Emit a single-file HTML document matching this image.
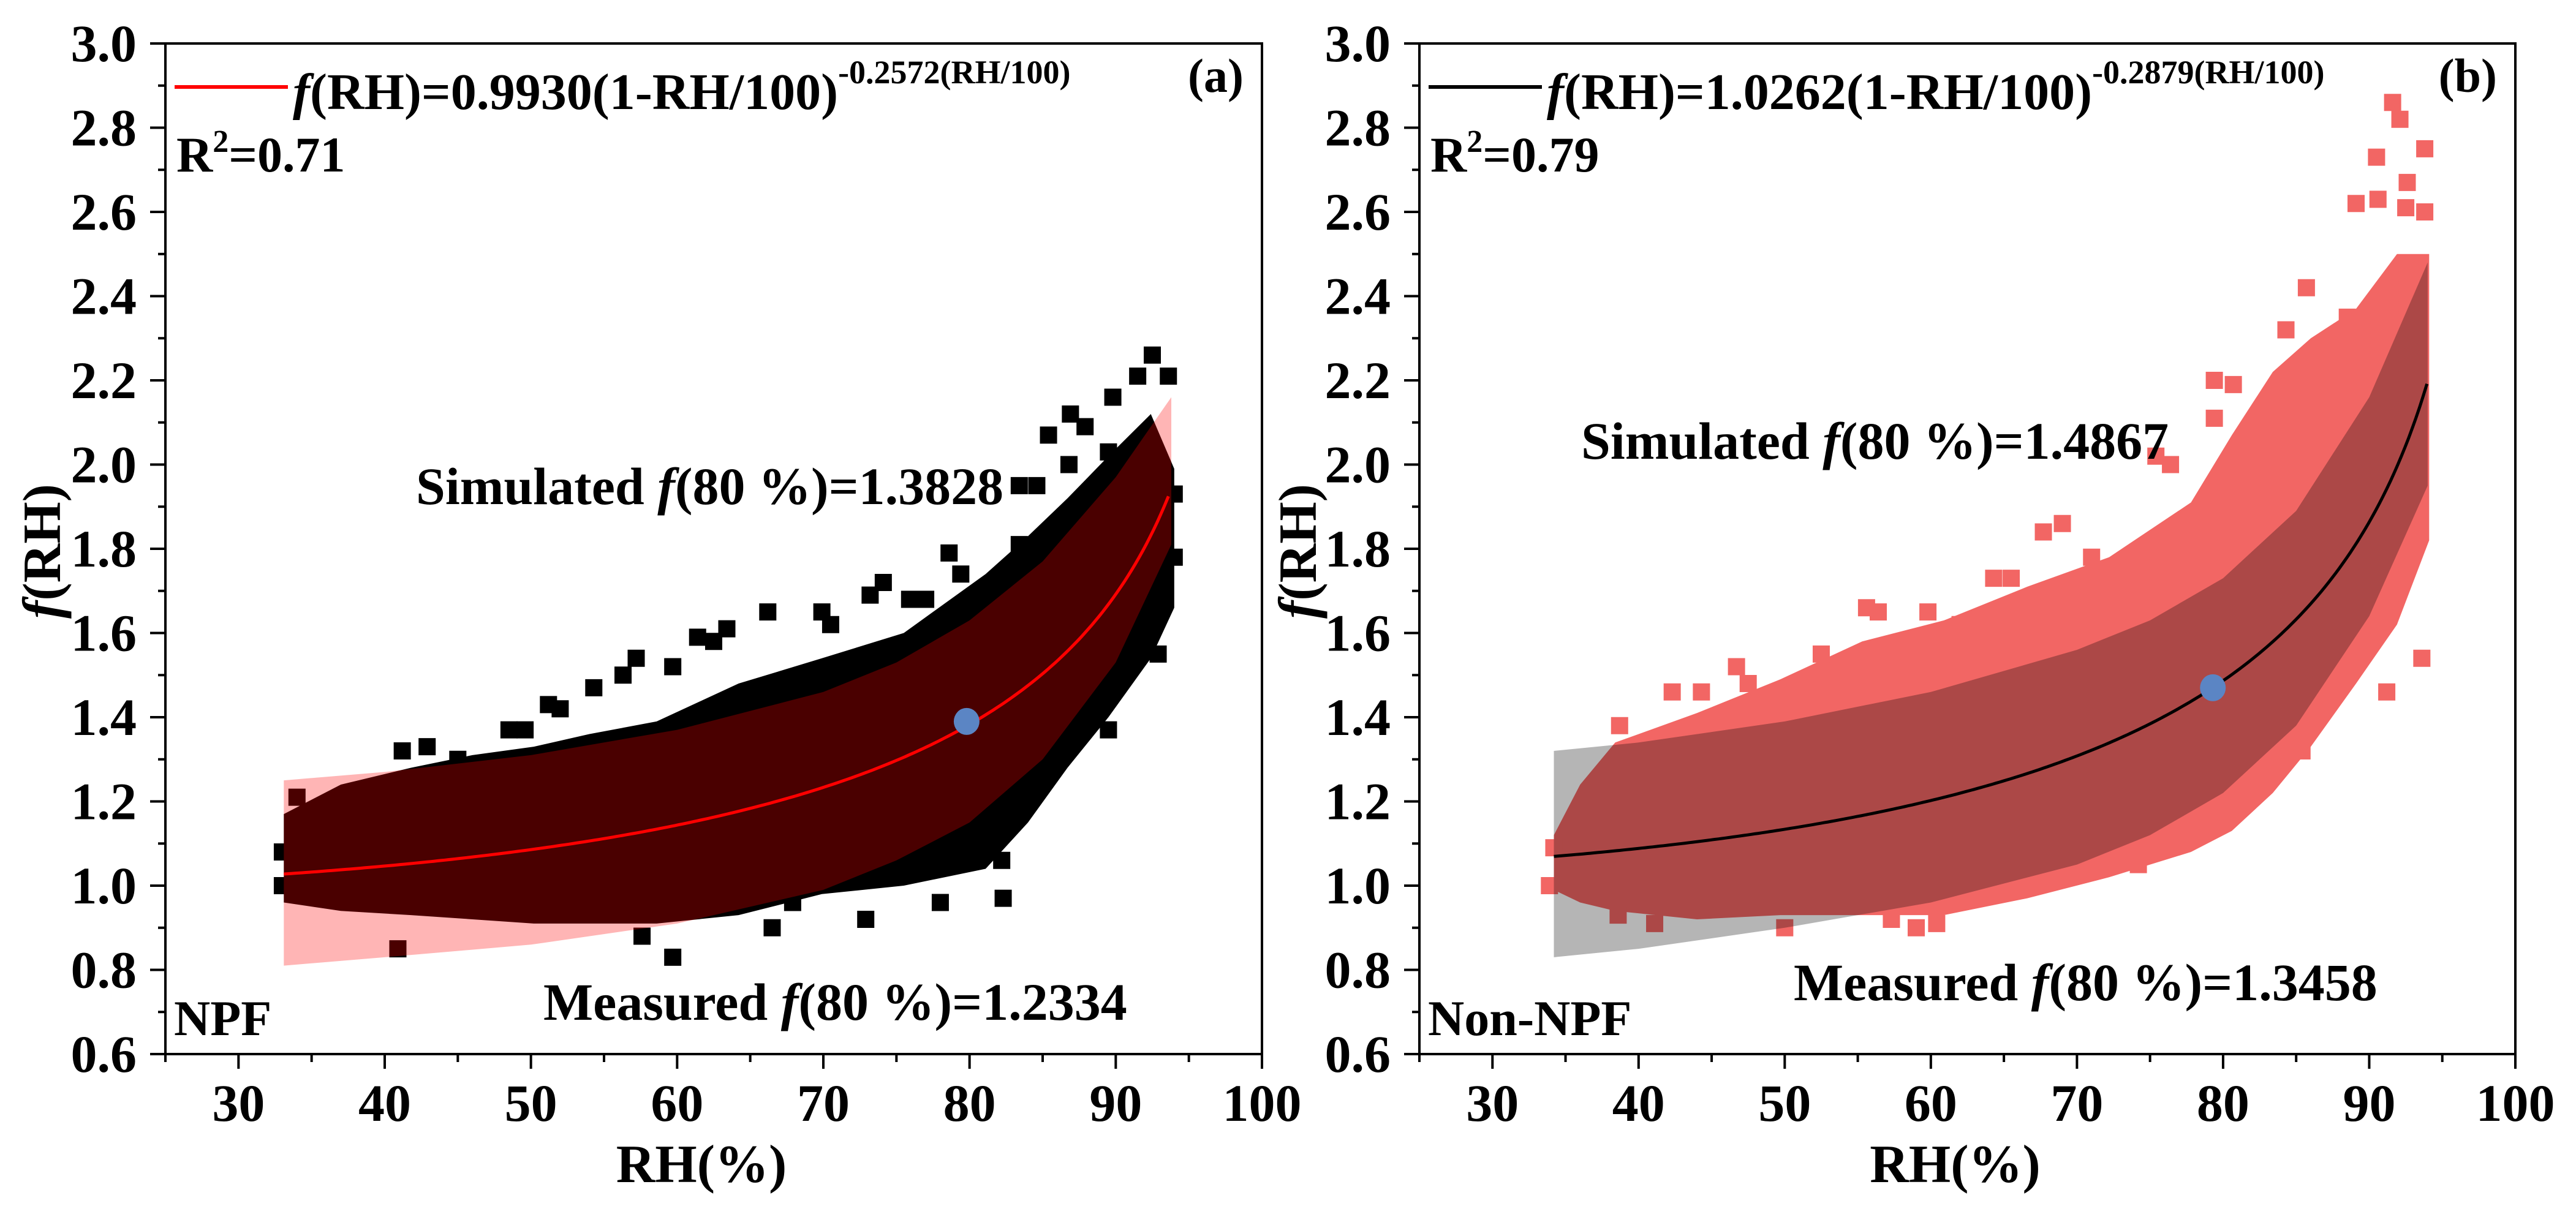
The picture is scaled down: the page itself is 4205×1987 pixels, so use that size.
<!DOCTYPE html>
<html><head><meta charset="utf-8"><style>
html,body{margin:0;padding:0;background:#fff;}
svg{display:block;font-family:"Liberation Serif",serif;font-weight:bold;}
</style></head><body>
<svg id="fig" width="4205" height="1987" viewBox="0 0 4205 1987" xmlns="http://www.w3.org/2000/svg"></svg>
<script>
// ---------- data ----------
const xTicks = [30,40,50,60,70,80,90,100];
const yTicks = [0.6,0.8,1.0,1.2,1.4,1.6,1.8,2.0,2.2,2.4,2.6,2.8,3.0];
const fitA = [0.9930, 0.2572];
const fitB = [1.0262, 0.2879];
const rangeA = [33.1, 93.8];
const rangeB = [34.2, 94.0];
const markA = [79.8, 1.39];
const markB = [79.3, 1.47];
// confidence band (a)
const bandRhA = [33.1, 40, 50, 60, 70, 75, 80, 85, 90, 93.8];
const bandHiA = [1.25, 1.27, 1.31, 1.37, 1.46, 1.53, 1.63, 1.77, 1.97, 2.16];
const bandLoA = [0.81, 0.83, 0.86, 0.91, 0.99, 1.06, 1.15, 1.30, 1.53, 1.81];
// dense scatter envelope (a)
const cloudRhA = [33.1, 37, 41.8, 46, 50.2, 54, 58.6, 64.2, 69.9, 75.5, 81.1, 84, 86.7, 89.5, 92.4, 94.0];
const cloudHiA = [1.17, 1.24, 1.28, 1.31, 1.33, 1.36, 1.39, 1.48, 1.54, 1.60, 1.74, 1.83, 1.92, 2.02, 2.12, 1.99];
const cloudLoA = [0.96, 0.94, 0.93, 0.92, 0.91, 0.91, 0.91, 0.93, 0.98, 1.00, 1.04, 1.15, 1.28, 1.40, 1.54, 1.66];
// outlier points (a)
const ptsXA = [92.5,91.5,93.6,89.8,86.9,85.4,87.9,83.4,84.6,78.6,79.4,94.0,74.1,73.2,75.9,66.2,69.9,63.4,61.4,57.2,59.7,56.3,54.3,51.2,49.6,48.5,42.9,41.2,34.0,33.0,33.0,40.9,57.6,59.7,66.5,67.9,72.9,78.0,82.3,82.2,89.5,92.9,94.0,80.0,83.4,86.8,89.5,36.5,45.0,52.0,62.5,70.5,77.0];
const ptsYA = [2.26,2.21,2.21,2.16,2.12,2.07,2.09,1.95,1.95,1.79,1.74,1.93,1.72,1.69,1.68,1.65,1.65,1.61,1.59,1.54,1.52,1.50,1.47,1.43,1.37,1.37,1.33,1.32,1.21,1.08,1.00,0.85,0.88,0.83,0.90,0.96,0.92,0.96,0.97,1.06,1.37,1.55,1.78,1.65,1.81,2.00,2.03,1.20,1.30,1.42,1.58,1.62,1.68];
// confidence band (b)
const bandRhB = [34.2, 40, 50, 60, 70, 75, 80, 85, 90, 94.0];
const bandHiB = [1.32, 1.34, 1.39, 1.46, 1.56, 1.63, 1.73, 1.89, 2.16, 2.48];
const bandLoB = [0.83, 0.85, 0.90, 0.96, 1.05, 1.12, 1.22, 1.38, 1.64, 1.95];
// dense scatter envelope (b)
const cloudRhB = [34.2, 36, 38.4, 44.0, 49.7, 55.3, 60.9, 66.6, 72.2, 77.8, 80.6, 83.4, 86, 89.1, 91.9, 94.1];
const cloudHiB = [1.12, 1.24, 1.34, 1.41, 1.49, 1.58, 1.63, 1.71, 1.78, 1.91, 2.07, 2.22, 2.30, 2.37, 2.50, 2.50];
const cloudLoB = [0.99, 0.96, 0.94, 0.92, 0.93, 0.93, 0.93, 0.97, 1.02, 1.08, 1.13, 1.22, 1.33, 1.48, 1.62, 1.82];
// outlier points (b)
const ptsXB = [91.6,92.1,90.5,92.6,93.8,89.1,90.6,92.5,93.8,85.7,84.3,88.5,79.4,80.7,75.4,76.4,79.4,69.0,67.7,64.3,65.5,59.8,55.6,56.4,52.5,46.7,42.3,44.3,38.7,34.2,33.9,38.6,41.1,50.0,57.3,59.0,60.4,74.2,85.4,91.2,93.6,62.0,71.0,47.5];
const ptsYB = [2.86,2.82,2.73,2.67,2.75,2.62,2.63,2.61,2.60,2.42,2.32,2.35,2.20,2.19,2.02,2.00,2.11,1.86,1.84,1.73,1.73,1.65,1.66,1.65,1.55,1.52,1.46,1.46,1.38,1.09,1.00,0.93,0.91,0.90,0.92,0.90,0.91,1.05,1.32,1.46,1.54,1.62,1.78,1.48];

// ---------- drawing ----------
const NS = "http://www.w3.org/2000/svg";
const svg = document.getElementById('fig');
function mk(tag, attrs, parent){
  const e = document.createElementNS(NS, tag);
  for (const k in attrs) e.setAttribute(k, attrs[k]);
  (parent||svg).appendChild(e);
  return e;
}
function panel(cfg){
  const g = mk('g', {});
  
  
  const L = cfg.x0, R = cfg.x1, T = 71, B = 1721;
  const sx = v => L + (v - 25) / 75 * (R - L);
  const sy = v => B - (v - 0.6) / 2.4 * (B - T);
  const poly = (rh, hi, lo) => {
    let p = [];
    for (let i = 0; i < rh.length; i++) p.push(sx(rh[i]).toFixed(1) + ',' + sy(hi[i]).toFixed(1));
    for (let i = rh.length - 1; i >= 0; i--) p.push(sx(rh[i]).toFixed(1) + ',' + sy(lo[i]).toFixed(1));
    return p.join(' ');
  };
  const cloud = mk('polygon', {points: poly(cfg.cloudRh, cfg.cloudHi, cfg.cloudLo), fill: cfg.ptColor}, g);
  
  
  for (let i = 0; i < cfg.px.length; i++){
    const s = mk('rect', {x: sx(cfg.px[i]) - 14, y: sy(cfg.py[i]) - 14, width: 28, height: 28, fill: cfg.ptColor}, g);
    
    
  }
  const band = mk('polygon', {points: poly(cfg.bandRh, cfg.bandHi, cfg.bandLo), fill: cfg.bandColor}, g);
  
  
  let d = '';
  for (let rh = cfg.range[0]; rh <= cfg.range[1] + 0.001; rh += 0.25){
    const x = rh / 100;
    const f = cfg.fit[0] * Math.pow(1 - x, -cfg.fit[1] * x);
    d += (d ? 'L' : 'M') + sx(rh).toFixed(1) + ',' + sy(f).toFixed(1);
  }
  const c = mk('path', {d: d, fill: 'none', stroke: cfg.lineColor, 'stroke-width': 5}, g);
  
  
  const dot = mk('ellipse', {cx: sx(cfg.mark[0]), cy: sy(cfg.mark[1]), rx: 21, ry: 22, fill: '#5b85c4'}, g);
  
  
  const fr = mk('rect', {x: L, y: T, width: R - L, height: B - T, fill: 'none', stroke: '#000', 'stroke-width': 4}, g);
  
  
  for (let v = 25; v <= 100; v += 5){
    const major = v % 10 === 0;
    mk('line', {x1: sx(v), x2: sx(v), y1: B, y2: B + (major ? 24 : 13), stroke: '#000', 'stroke-width': 4}, g);
  }
  xTicks.forEach(v => {
    const t = mk('text', {x: sx(v), y: 1830, 'font-size': 86, 'text-anchor': 'middle'}, g);
    t.textContent = v;
    
    
  });
  for (let k = 0; k <= 24; k++){
    const v = 0.6 + k * 0.1;
    const major = k % 2 === 0;
    mk('line', {x1: L, x2: L - (major ? 25 : 12), y1: sy(v), y2: sy(v), stroke: '#000', 'stroke-width': 4}, g);
  }
  yTicks.forEach(v => {
    const t = mk('text', {x: L - 47, y: sy(v) + 29, 'font-size': 86, 'text-anchor': 'end'}, g);
    t.textContent = v.toFixed(1);
    
    
  });
  const xt = mk('text', {x: (L + R) / 2 - 20, y: 1930, 'font-size': 88, 'text-anchor': 'middle'}, g);
  xt.textContent = 'RH(%)';
  
  
  const yt = mk('text', {x: 0, y: 0, 'font-size': 88, 'text-anchor': 'middle', transform: 'translate(' + (cfg.ytx + 28) + ',900) rotate(-90)'}, g);
  yt.innerHTML = '<tspan font-style="italic">f</tspan>(RH)';
  
  
  const ll = mk('line', {x1: L + 15, x2: L + 200, y1: 142, y2: 142, stroke: cfg.lineColor, 'stroke-width': 6}, g);
  
  
  const eq = mk('text', {x: L + 208, y: 178, 'font-size': 84}, g);
  eq.innerHTML = '<tspan font-style="italic">f</tspan>(RH)=' + cfg.fit[0].toFixed(4) + '(1-RH/100)<tspan font-size="54" dy="-42">-' + cfg.fit[1].toFixed(4) + '(RH/100)</tspan>';
  
  
  const r2 = mk('text', {x: L + 18, y: 280, 'font-size': 82}, g);
  r2.innerHTML = 'R<tspan font-size="52" dy="-32">2</tspan><tspan dy="32">=' + cfg.r2 + '</tspan>';
  
  
  const pl = mk('text', {x: R - 30, y: 150, 'font-size': 78, 'text-anchor': 'end'}, g);
  pl.textContent = cfg.label;
  
  
  const sim = mk('text', {x: cfg.simX, y: cfg.simY, 'font-size': 86}, g);
  sim.innerHTML = 'Simulated <tspan font-style="italic">f</tspan>(80 %)=' + cfg.sim;
  
  
  const mea = mk('text', {x: cfg.meaX, y: cfg.meaY, 'font-size': 86}, g);
  mea.innerHTML = 'Measured <tspan font-style="italic">f</tspan>(80 %)=' + cfg.mea;
  
  
  const ev = mk('text', {x: L + 14, y: 1690, 'font-size': 82}, g);
  ev.textContent = cfg.event;
  
  
}
panel({name:'panel-a-npf', x0:270, x1:2060, ytx:70, ptColor:'#000', bandColor:'rgba(255,0,0,0.29)', lineColor:'#ff0000',
  cloudRh:cloudRhA, cloudHi:cloudHiA, cloudLo:cloudLoA, px:ptsXA, py:ptsYA,
  bandRh:bandRhA, bandHi:bandHiA, bandLo:bandLoA, fit:fitA, range:rangeA, mark:markA,
  r2:'0.71', label:'(a)', sim:'1.3828', mea:'1.2334', simX:679, simY:823, meaX:887, meaY:1665, event:'NPF'});
panel({name:'panel-b-non-npf', x0:2317, x1:4106, ytx:2120, ptColor:'#f26664', bandColor:'rgba(0,0,0,0.29)', lineColor:'#000',
  cloudRh:cloudRhB, cloudHi:cloudHiB, cloudLo:cloudLoB, px:ptsXB, py:ptsYB,
  bandRh:bandRhB, bandHi:bandHiB, bandLo:bandLoB, fit:fitB, range:rangeB, mark:markB,
  r2:'0.79', label:'(b)', sim:'1.4867', mea:'1.3458', simX:2581, simY:749, meaX:2928, meaY:1633, event:'Non-NPF'});
</script>
</body></html>
